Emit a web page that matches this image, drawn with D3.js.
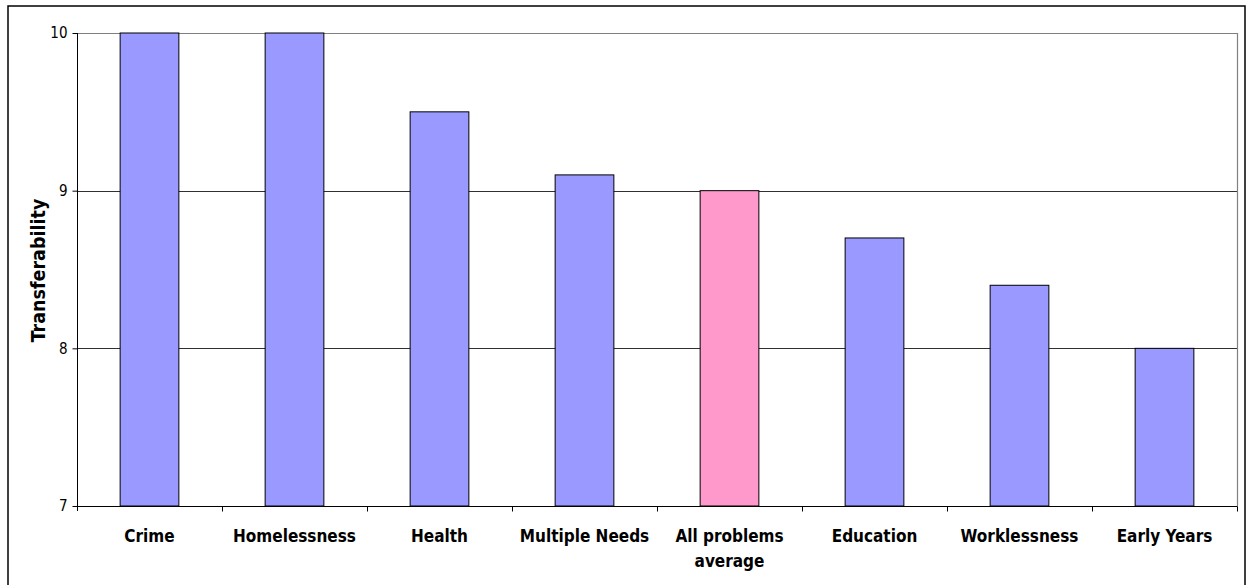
<!DOCTYPE html>
<html>
<head>
<meta charset="utf-8">
<script src="https://cdn.jsdelivr.net/npm/d3@7"></script>
<style>
  html, body { margin: 0; padding: 0; background: #fff; }
  svg { display: block; }
  text { font-family: "DejaVu Sans Condensed", "DejaVu Sans", sans-serif; fill: #000; }
</style>
</head>
<body>
<svg id="chart" width="1253" height="585"></svg>
<script>
// Transferability score by problem area
const categories = ["Crime", "Homelessness", "Health", "Multiple Needs", "All problems average", "Education", "Worklessness", "Early Years"];
const values = [10, 10, 9.5, 9.1, 9.0, 8.7, 8.4, 8.0];
const highlighted = ["All problems average"];
const yTicks = [7, 8, 9, 10];
const yTitle = "Transferability";

const svg = d3.select("#chart");
const plot = { left: 77, top: 33, right: 1237, bottom: 506 };

// outer chart frame (bottom edge runs off the page)
svg.append("rect")
  .attr("x", 8).attr("y", 6)
  .attr("width", 1237).attr("height", 600)
  .attr("fill", "#fff").attr("stroke", "#000").attr("stroke-width", 1.5);

const x = d3.scaleBand()
  .domain(categories)
  .range([plot.left, plot.right])
  .paddingInner(0.595).paddingOuter(0.2975);

const xb = d3.scaleBand().domain(categories).range([plot.left, plot.right]);

const y = d3.scaleLinear().domain([7, 10]).range([plot.bottom, plot.top]);

// gridlines
svg.append("g")
  .selectAll("line")
  .data(yTicks.filter(t => t > 7 && t < 10))
  .join("line")
  .attr("x1", plot.left).attr("x2", plot.right)
  .attr("y1", d => Math.round(y(d)) + 0.5).attr("y2", d => Math.round(y(d)) + 0.5)
  .attr("stroke", "#303030").attr("stroke-width", 1);

// plot area border (top and right)
svg.append("path")
  .attr("d", `M${plot.left},${plot.top + 0.5}H${plot.right + 0.5}V${plot.bottom}`)
  .attr("fill", "none").attr("stroke", "#808080").attr("stroke-width", 1.2);

// bars
svg.append("g")
  .selectAll("rect")
  .data(categories.map((c, i) => ({ c, v: values[i] })))
  .join("rect")
  .attr("x", d => x(d.c))
  .attr("width", x.bandwidth())
  .attr("y", d => y(d.v))
  .attr("height", d => y(7) - y(d.v))
  .attr("fill", d => highlighted.includes(d.c) ? "#FF99CC" : "#9999FF")
  .attr("stroke", "#000").attr("stroke-width", 1);

// y axis
const yAxis = svg.append("g")
  .attr("transform", `translate(${plot.left + 0.5},0)`)
  .call(d3.axisLeft(y).tickValues(yTicks).tickFormat(d3.format("d")).tickSize(5).tickPadding(5));
yAxis.select(".domain").attr("stroke", "#000").attr("d", `M0,${plot.top}V${plot.bottom + 5}`);
yAxis.selectAll(".tick line").attr("stroke", "#000");
yAxis.selectAll(".tick text")
  .style("font-family", "'DejaVu Sans Condensed', 'DejaVu Sans', sans-serif")
  .style("font-size", "15px").attr("fill", "#000");

// x axis: ticks sit on category boundaries
const xAxisG = svg.append("g").attr("transform", `translate(0,${plot.bottom + 0.5})`);
xAxisG.append("line")
  .attr("x1", plot.left).attr("x2", plot.right + 0.5)
  .attr("stroke", "#000");
xAxisG.selectAll("line.tk")
  .data(categories.slice(1).concat(["_end"]))
  .join("line")
  .attr("class", "tk")
  .attr("x1", (d, i) => Math.round(i < categories.length - 1 ? xb(d) : plot.right) + 0.5)
  .attr("x2", (d, i) => Math.round(i < categories.length - 1 ? xb(d) : plot.right) + 0.5)
  .attr("y1", 0).attr("y2", 5)
  .attr("stroke", "#000");

// category labels, wrapped onto two lines when too wide
const wrapLines = { "All problems average": ["All problems", "average"] };
const labels = svg.append("g").selectAll("text")
  .data(categories)
  .join("text")
  .attr("x", d => xb(d) + xb.bandwidth() / 2)
  .attr("y", 542)
  .attr("text-anchor", "middle")
  .style("font-size", "17px").style("font-weight", "bold");
labels.each(function (d) {
  const lines = wrapLines[d] || [d];
  d3.select(this).selectAll("tspan").data(lines).join("tspan")
    .attr("x", xb(d) + xb.bandwidth() / 2)
    .attr("dy", (l, i) => i === 0 ? 0 : 25)
    .text(l => l);
});

// y axis title
svg.append("text")
  .attr("transform", `translate(45,270.5) rotate(-90)`)
  .attr("text-anchor", "middle")
  .style("font-size", "19.5px").style("font-weight", "bold")
  .text(yTitle);
</script>
</body>
</html>
